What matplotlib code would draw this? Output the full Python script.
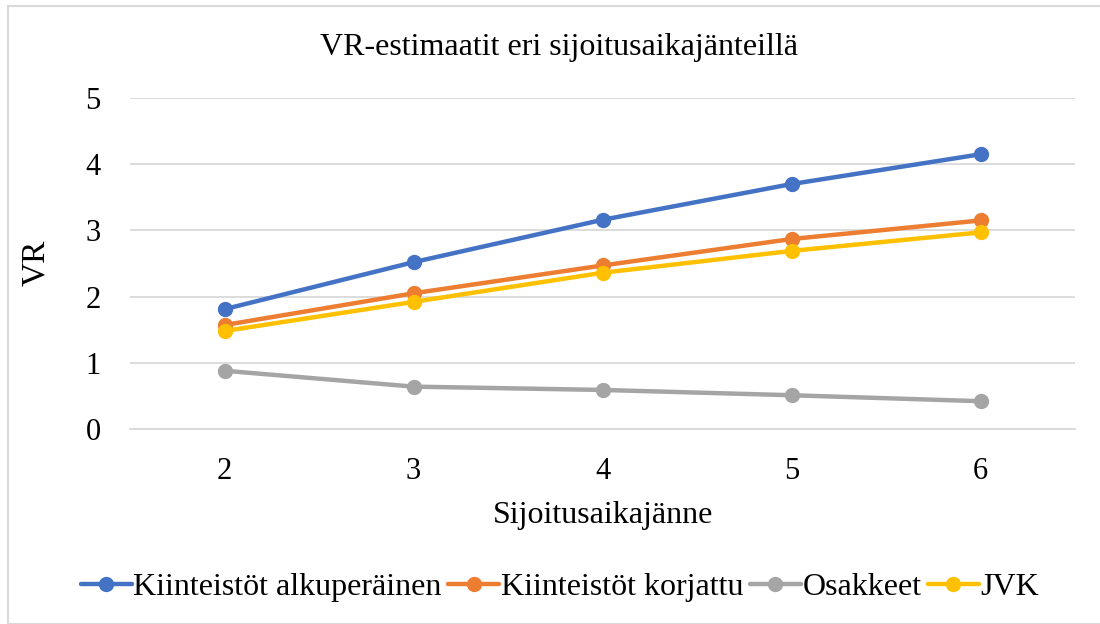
import matplotlib.pyplot as plt
from matplotlib.patches import Rectangle

plt.rcParams['font.family'] = ['Liberation Serif', 'DejaVu Serif']

horizons = [2, 3, 4, 5, 6]
alkuperainen = [1.81, 2.52, 3.16, 3.70, 4.15]
korjattu = [1.57, 2.05, 2.47, 2.87, 3.15]
osakkeet = [0.88, 0.64, 0.59, 0.51, 0.42]
jvk = [1.48, 1.92, 2.36, 2.69, 2.97]

series = [
    ("Kiinteistöt alkuperäinen", alkuperainen, "#4472C4"),
    ("Kiinteistöt korjattu", korjattu, "#ED7D31"),
    ("Osakkeet", osakkeet, "#A5A5A5"),
    ("JVK", jvk, "#FFC000"),
]

fig = plt.figure(figsize=(11, 6.24), dpi=100)
ax = fig.add_axes([130/1100, 1 - 429/624, 945/1100, 331/624])

x = list(range(len(horizons)))
for name, vals, col in series:
    ax.plot(x, vals, color=col, lw=3.2, marker='o', ms=10, label=name,
            solid_capstyle='round')

ax.set_xlim(-0.5, len(horizons) - 0.5)
ax.set_ylim(0, 5)
ax.set_xticks(x)
ax.set_xticklabels([str(h) for h in horizons])
ax.set_yticks(range(6))
ax.tick_params(length=0, labelsize=22)
ax.tick_params(axis='x', pad=20)
ax.tick_params(axis='y', pad=21)
ax.grid(axis='y', color='#D9D9D9', lw=1.3)
ax.set_axisbelow(True)
for s in ['top', 'right', 'left']:
    ax.spines[s].set_visible(False)
ax.spines['bottom'].set_color('#D9D9D9')
ax.spines['bottom'].set_linewidth(1.3)

fig.text(559/1100, 1 - 48/624, "VR-estimaatit eri sijoitusaikajänteillä",
         fontsize=23, ha='center', va='center')
fig.text(603/1100, 1 - 516/624, "Sijoitusaikajänne", fontsize=23,
         ha='center', va='center')
fig.text(36/1100, 1 - 263/624, "VR", fontsize=24, rotation=90,
         ha='center', va='center')

fig.legend(loc='center', bbox_to_anchor=(560/1100, 1 - 587/624), ncol=4,
           frameon=False, fontsize=23, handlelength=1.6, handletextpad=0.05,
           columnspacing=0.2)

fig.patches.append(Rectangle((8/1100, 0), 1.0, 1 - 6/624, transform=fig.transFigure,
                             fill=False, edgecolor='#D9D9D9', lw=1.5))

fig.savefig("out.png", dpi=100)
